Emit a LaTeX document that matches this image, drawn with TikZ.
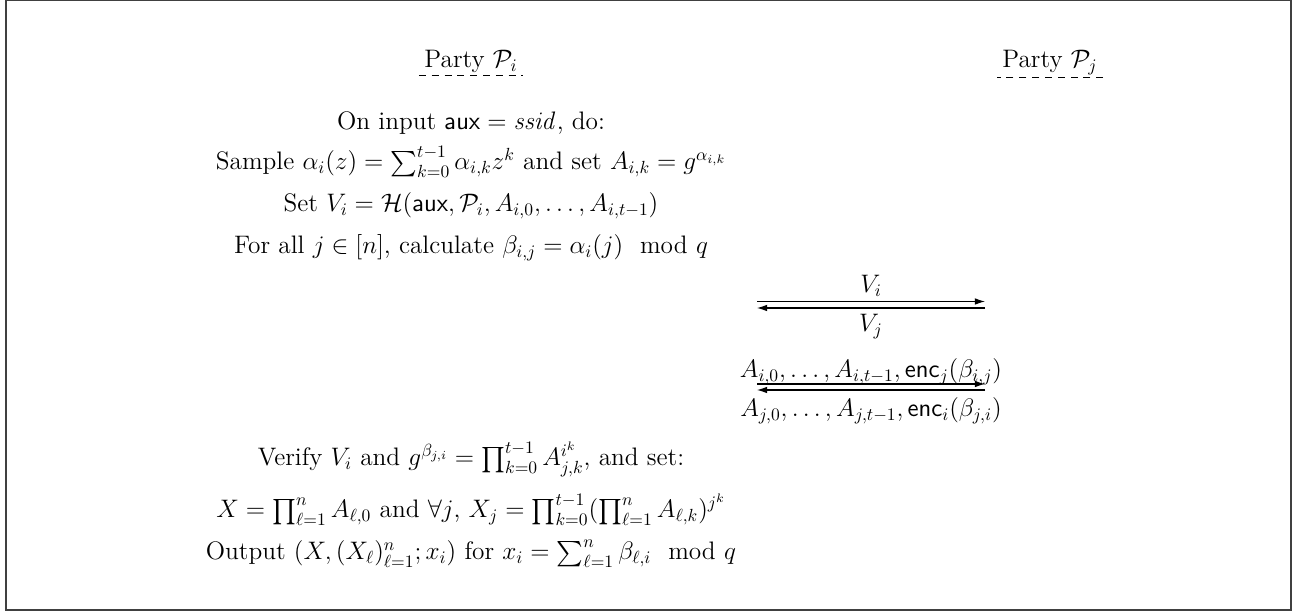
\documentclass[tikz,border=0pt]{standalone}
\usepackage{amsmath, amssymb}
\usepackage{tikz}
\usetikzlibrary{arrows.meta}

\begin{document}
\begin{tikzpicture}[x=0.02cm, y=-0.02cm,
	every node/.style={font=\Large, inner sep=1pt, anchor=base},
	msg/.style={-{Latex[length=5.8pt, width=3.8pt]}, line width=0.6pt},
	party/.style={inner xsep=3pt},
	uline/.style={line width=0.5pt, dash pattern=on 4pt off 3.3pt}]
	% 外框
	\useasboundingbox (0,0) rectangle (1299,614);
	\draw[line width=0.7pt, black!75] (6,0.5) rectangle (1291,610);
	
	% --- 参与方 P_i ---
	\node[party] (pi) at (471,68) {Party $\mathcal{P}_i$};
	\draw[uline] (pi.south west) -- (pi.south east);
	
	% --- 参与方 P_j ---
	\node[party] (pj) at (1050,68) {Party $\mathcal{P}_j$};
	\draw[uline] (pj.south east) -- (pj.south west);
	
	% 第一轮：本地计算
	\node (in) at (471,130) {On input $\mathsf{aux} = \mathit{ssid}$, do:};
	\node (samp) at (471,170) {Sample $\alpha_i(z) = \sum_{k=0}^{t-1} \alpha_{i,k} z^k$ and set $A_{i,k} = g^{\alpha_{i,k}}$};
	\node (setv) at (471,212) {Set $V_i = \mathcal{H}(\mathsf{aux}, \mathcal{P}_i, A_{i,0}, \ldots, A_{i,t-1})$};
	\node (calc) at (471,254) {For all $j \in [n]$, calculate $\beta_{i,j} = \alpha_i(j) \mod q$};
	
	% 消息交换
	\coordinate (m1l) at (757,301.5);
	\coordinate (m1r) at (985,301.5);
	\coordinate (m2l) at (757,308);
	\coordinate (m2r) at (985,308);
	\draw[msg] (m1l) -- (m1r);
	\draw[msg] (m2r) -- (m2l);
	\node (vi) at (871,293) {$V_i$};
	\node (vj) at (871,332) {$V_j$};
	
	\coordinate (m3l) at (757,384);
	\coordinate (m3r) at (985,384);
	\coordinate (m4l) at (757,390);
	\coordinate (m4r) at (985,390);
	\draw[msg] (m3l) -- (m3r);
	\draw[msg] (m4r) -- (m4l);
	\node (ai) at (871,378) {$A_{i,0}, \ldots, A_{i,t-1}, \mathsf{enc}_j(\beta_{i,j})$};
	\node (aj) at (871,417) {$A_{j,0}, \ldots, A_{j,t-1}, \mathsf{enc}_i(\beta_{j,i})$};
	
	% 第二轮：验证并输出
	\node (ver) at (471,466) {Verify $V_i$ and $g^{\beta_{j,i}} = \prod_{k=0}^{t-1} A_{j,k}^{i^k}$, and set:};
	\node (setx) at (471,518) {$X = \prod_{\ell=1}^{n} A_{\ell,0}$ and $\forall j$, $X_j = \prod_{k=0}^{t-1} (\prod_{\ell=1}^{n} A_{\ell,k})^{j^k}$};
	\node (out) at (471,560) {Output $(X, (X_\ell)_{\ell=1}^{n}; x_i)$ for $x_i = \sum_{\ell=1}^{n} \beta_{\ell,i} \mod q$};
\end{tikzpicture}
\end{document}
